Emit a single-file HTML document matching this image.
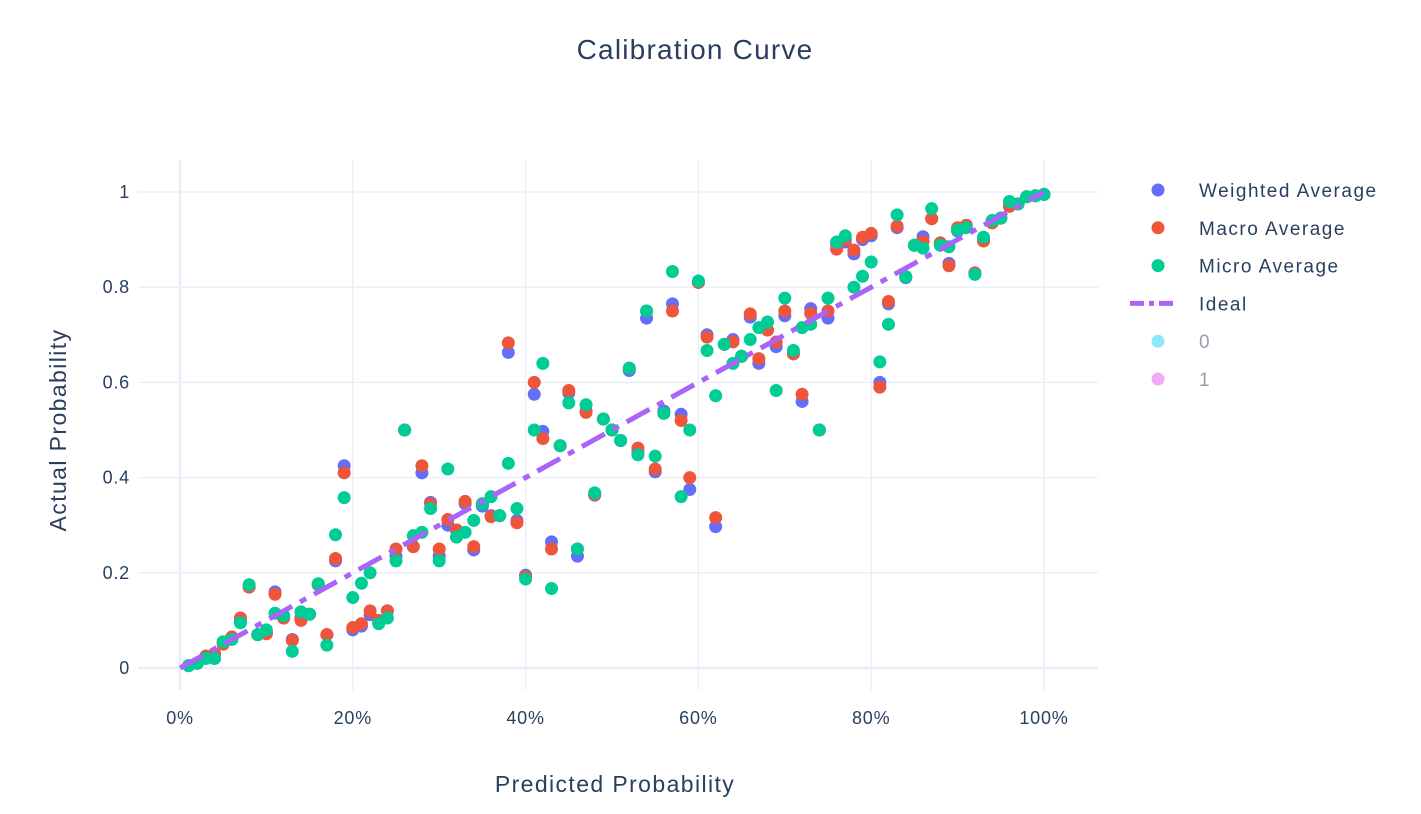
<!DOCTYPE html>
<html><head><meta charset="utf-8"><style>
body{margin:0;background:#fff;font-family:"Liberation Sans",sans-serif;}
svg text{font-family:"Liberation Sans",sans-serif;}
</style></head><body>
<svg id="chart" width="1421" height="809">
<text x="695" y="59" text-anchor="middle" font-size="28" letter-spacing="1.2" fill="#2a3f5f">Calibration Curve</text>
<g id="grid"></g><g id="marks"></g><g id="axes"></g><g id="legend"></g>
<text x="615" y="792" text-anchor="middle" font-size="23" letter-spacing="1.4" fill="#2a3f5f">Predicted Probability</text>
<text transform="translate(66,430) rotate(-90)" text-anchor="middle" font-size="23" letter-spacing="1.4" fill="#2a3f5f">Actual Probability</text>
</svg>
<script>
const weighted=[0.005,0.01,0.025,0.03,0.055,0.065,0.10,0.17,0.07,0.075,0.16,0.105,0.06,0.105,0.113,0.175,0.07,0.225,0.425,0.08,0.088,0.112,0.095,0.12,0.235,0.50,0.255,0.41,0.348,0.235,0.30,0.29,0.345,0.248,0.34,0.32,0.32,0.663,0.31,0.195,0.575,0.497,0.265,0.467,0.578,0.235,0.54,0.363,0.523,0.50,0.478,0.625,0.455,0.735,0.412,0.54,0.765,0.533,0.375,0.81,0.70,0.297,0.68,0.69,0.655,0.737,0.64,0.71,0.675,0.74,0.66,0.56,0.755,0.50,0.735,0.89,0.895,0.87,0.90,0.908,0.60,0.765,0.925,0.82,0.888,0.906,0.944,0.893,0.85,0.918,0.93,0.83,0.90,0.94,0.945,0.97,0.975,0.99,0.992,0.995];
const macro=[0.005,0.01,0.025,0.03,0.05,0.065,0.105,0.17,0.07,0.072,0.155,0.105,0.058,0.10,0.113,0.175,0.07,0.23,0.41,0.085,0.093,0.12,0.10,0.12,0.25,0.50,0.255,0.425,0.345,0.25,0.312,0.29,0.35,0.255,0.345,0.318,0.32,0.683,0.305,0.192,0.60,0.482,0.25,0.467,0.583,0.25,0.537,0.365,0.523,0.50,0.478,0.63,0.462,0.75,0.418,0.535,0.75,0.52,0.40,0.81,0.695,0.316,0.68,0.685,0.655,0.744,0.65,0.71,0.685,0.75,0.66,0.575,0.745,0.50,0.75,0.88,0.90,0.878,0.905,0.913,0.59,0.77,0.928,0.822,0.888,0.896,0.944,0.893,0.845,0.925,0.93,0.83,0.897,0.935,0.945,0.97,0.975,0.99,0.992,0.995];
const micro=[0.005,0.01,0.02,0.02,0.055,0.06,0.095,0.175,0.07,0.08,0.115,0.11,0.035,0.118,0.113,0.177,0.048,0.28,0.358,0.148,0.178,0.20,0.093,0.105,0.225,0.50,0.278,0.285,0.335,0.225,0.418,0.275,0.285,0.31,0.345,0.36,0.32,0.43,0.335,0.187,0.50,0.64,0.167,0.467,0.557,0.25,0.553,0.368,0.523,0.50,0.478,0.63,0.448,0.75,0.445,0.535,0.833,0.36,0.50,0.813,0.667,0.572,0.68,0.64,0.655,0.69,0.715,0.727,0.583,0.777,0.667,0.715,0.722,0.50,0.777,0.895,0.908,0.80,0.823,0.853,0.643,0.722,0.952,0.822,0.888,0.882,0.965,0.888,0.885,0.92,0.925,0.827,0.905,0.94,0.945,0.98,0.975,0.99,0.992,0.995];
const xTicks=[0,0.2,0.4,0.6,0.8,1];
const xTickLabels=["0%","20%","40%","60%","80%","100%"];
const yTicks=[0,0.2,0.4,0.6,0.8,1];
const yTickLabels=["0","0.2","0.4","0.6","0.8","1"];
const seriesNames=["Weighted Average","Macro Average","Micro Average"];
const NS="http://www.w3.org/2000/svg";
const xs=v=>180+864*v, ys=v=>668-476*v;
function mk(tag,attrs,parent,txt){const e=document.createElementNS(NS,tag);for(const k in attrs)e.setAttribute(k,attrs[k]);if(txt!==undefined)e.textContent=txt;parent.appendChild(e);return e;}
const grid=document.getElementById('grid'),marks=document.getElementById('marks'),axes=document.getElementById('axes'),legend=document.getElementById('legend');
xTicks.forEach((t,i)=>{
  const l=mk('line',{x1:xs(t),x2:xs(t),y1:160,y2:690,stroke:'#ebf0f8','stroke-width':t===0?3:1.5},grid);
  
  
  const tx=mk('text',{x:xs(t),y:724,'text-anchor':'middle','font-size':18,'letter-spacing':0.8,fill:'#2a3f5f'},axes,xTickLabels[i]);
  
  
});
yTicks.forEach((t,i)=>{
  const l=mk('line',{x1:138,x2:1098,y1:ys(t),y2:ys(t),stroke:'#ebf0f8','stroke-width':t===0?3:1.5},grid);
  
  
  const tx=mk('text',{x:130,y:ys(t)+6,'text-anchor':'end','font-size':18,'letter-spacing':0.8,fill:'#2a3f5f'},axes,yTickLabels[i]);
  
  
});
const colors=['#636efa','#EF553B','#00cc96'];
[weighted,macro,micro].forEach((arr,si)=>{
  arr.forEach((v,i)=>{
    const c=mk('circle',{cx:xs((i+1)/100),cy:ys(v),r:6.5,fill:colors[si]},marks);
    
    
  });
});
const ideal=mk('line',{x1:xs(0),y1:ys(0),x2:xs(1),y2:ys(1),stroke:'#ab63fa','stroke-width':5,'stroke-dasharray':'26,9,7,9'},marks);


const legItems=[['Weighted Average','#636efa',1,'m'],['Macro Average','#EF553B',1,'m'],['Micro Average','#00cc96',1,'m'],['Ideal','#ab63fa',1,'l'],['0','#19d3f3',0.5,'m'],['1','#e75cf0',0.5,'m']];
legItems.forEach((it,i)=>{
  const y=190+37.8*i;
  const g=mk('g',{opacity:it[2]},legend);
  
  
  if(it[3]==='l'){mk('line',{x1:1130,x2:1176,y1:y,y2:y,stroke:it[1],'stroke-width':5,'stroke-dasharray':'14,5,5,5'},g);}
  else {mk('circle',{cx:1158,cy:y,r:6.5,fill:it[1]},g);}
  mk('text',{x:1199,y:y+7,'font-size':19,'letter-spacing':1.5,fill:'#2a3f5f'},g,it[0]);
});
</script>
</body></html>
